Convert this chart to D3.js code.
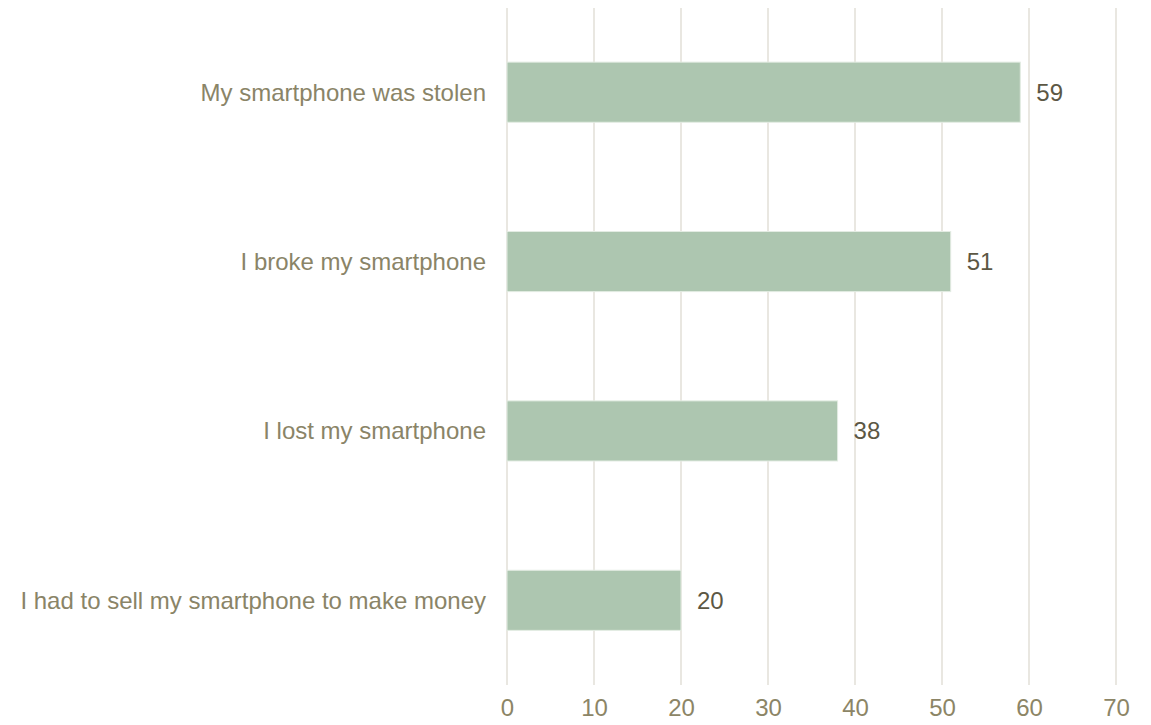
<!DOCTYPE html>
<html>
<head>
<meta charset="utf-8">
<script src="https://cdn.jsdelivr.net/npm/d3@7"></script>
<style>
  html, body { margin: 0; padding: 0; background: #ffffff; }
  svg { display: block; font-family: "Liberation Sans", Arial, sans-serif; }
</style>
</head>
<body>
<svg id="chart" width="1151" height="725"></svg>
<script>
const categories = [
  "My smartphone was stolen",
  "I broke my smartphone",
  "I lost my smartphone",
  "I had to sell my smartphone to make money"
];
const values = [59, 51, 38, 20];
const tickValues = [0, 10, 20, 30, 40, 50, 60, 70];

const svg = d3.select("#chart");
const fontSize = 24;

const x = d3.scaleLinear().domain([0, 70]).range([507, 1116]);
const y = d3.scaleBand()
  .domain(categories)
  .range([7.5, 685])
  .paddingInner(0.645)
  .paddingOuter(0.3225);

// vertical gridlines
svg.append("g")
  .selectAll("line")
  .data(tickValues)
  .join("line")
  .attr("x1", d => x(d)).attr("x2", d => x(d))
  .attr("y1", 8).attr("y2", 685)
  .attr("stroke", "#e2dfd7")
  .attr("stroke-width", 1.5);

// bottom axis labels
const axis = d3.axisBottom(x).tickValues(tickValues).tickSize(0).tickPadding(0);
const ag = svg.append("g").attr("transform", "translate(0,699)").call(axis);
ag.select(".domain").remove();
ag.selectAll("text")
  .attr("font-size", fontSize)
  .attr("font-family", "'Liberation Sans', Arial, sans-serif")
  .attr("fill", "#8c8566")
  .attr("dy", "0.71em");

const data = categories.map((c, i) => ({ c, v: values[i] }));

// bars
svg.append("g")
  .selectAll("rect")
  .data(data)
  .join("rect")
  .attr("x", x(0))
  .attr("y", d => y(d.c))
  .attr("width", d => x(d.v) - x(0))
  .attr("height", y.bandwidth())
  .attr("fill", "#adc6b0")
  .attr("stroke", "#e3ece3")
  .attr("stroke-width", 1);

// category labels
svg.append("g")
  .selectAll("text")
  .data(data)
  .join("text")
  .attr("x", 486)
  .attr("y", d => y(d.c) + y.bandwidth() / 2)
  .attr("dy", "0.35em")
  .attr("text-anchor", "end")
  .attr("font-size", fontSize)
  .attr("fill", "#8a8467")
  .text(d => d.c);

// value labels
svg.append("g")
  .selectAll("text")
  .data(data)
  .join("text")
  .attr("x", d => x(d.v) + 16)
  .attr("y", d => y(d.c) + y.bandwidth() / 2)
  .attr("dy", "0.35em")
  .attr("font-size", fontSize)
  .attr("fill", "#5c5744")
  .text(d => d.v);
</script>
</body>
</html>
